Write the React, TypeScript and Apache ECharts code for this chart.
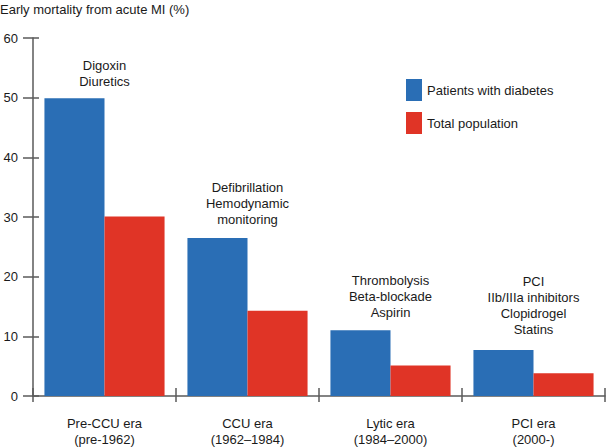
import React, { useEffect, useRef } from "react";
import * as echarts from "echarts";

const categories = ["Pre-CCU era\n(pre-1962)", "CCU era\n(1962–1984)", "Lytic era\n(1984–2000)", "PCI era\n(2000-)"];
const diabetesValues = [49.9, 26.5, 11.0, 7.7];
const totalValues = [30.1, 14.3, 5.1, 3.8];
const therapies = [
  "Digoxin\nDiuretics",
  "Defibrillation\nHemodynamic\nmonitoring",
  "Thrombolysis\nBeta-blockade\nAspirin",
  "PCI\nIIb/IIIa inhibitors\nClopidrogel\nStatins",
];
const seriesNames = ["Patients with diabetes", "Total population"];
const yTitle = "Early mortality from acute MI (%)";

const annotationGap = [9, 10, 10, 13];

const FONT = "Arial, 'Liberation Sans', Helvetica, sans-serif";
const TEXT = "#1a1a1a";
const AXIS = "#5a5a5a";
const BLUE = "#2a6eb5";
const RED = "#e03426";

export default function App() {
  const ref = useRef<HTMLDivElement>(null);
  useEffect(() => {
    if (!ref.current) return;
    const chart = echarts.init(ref.current, null, { renderer: "svg" });
    chart.setOption({
      animation: false,
      textStyle: { fontFamily: FONT, color: TEXT },
      title: {
        text: yTitle,
        left: 0,
        top: 3,
        padding: 0,
        textStyle: { fontFamily: FONT, fontSize: 13, fontWeight: "normal", color: TEXT },
      },
      legend: {
        orient: "vertical",
        left: 406,
        top: 79,
        padding: 0,
        itemWidth: 16,
        itemHeight: 22,
        itemGap: 11,
        icon: "rect",
        textStyle: { fontFamily: FONT, fontSize: 13, color: TEXT },
        data: seriesNames,
      },
      grid: { left: 33, right: 5, top: 38, bottom: 51, containLabel: false },
      xAxis: [
        {
          type: "category",
          data: categories,
          axisLine: { lineStyle: { color: AXIS, width: 1.5 } },
          axisTick: { show: true, length: 6, lineStyle: { color: AXIS, width: 1.5 } },
          axisLabel: { fontFamily: FONT, fontSize: 13, color: TEXT, lineHeight: 16, margin: 19 },
        },
        {
          type: "category",
          data: categories,
          position: "bottom",
          axisLine: { show: false },
          axisTick: { show: true, inside: true, length: 8, lineStyle: { color: AXIS, width: 1.5 } },
          axisLabel: { show: false },
        },
      ],
      yAxis: [
        {
          type: "value",
          min: 0,
          max: 60,
          interval: 10,
          splitLine: { show: false },
          axisLine: { show: true, lineStyle: { color: AXIS, width: 1.5 } },
          axisTick: { show: true, length: 10, lineStyle: { color: AXIS, width: 1.5 } },
          axisLabel: { fontFamily: FONT, fontSize: 13, color: TEXT, margin: 15 },
        },
        {
          type: "value",
          min: 0,
          max: 60,
          interval: 10,
          position: "left",
          splitLine: { show: false },
          axisLine: { show: false },
          axisTick: { show: true, inside: true, length: 6, lineStyle: { color: AXIS, width: 1.5 } },
          axisLabel: { show: false },
        },
      ],
      series: [
        {
          name: seriesNames[0],
          type: "bar",
          barGap: "0%",
          barCategoryGap: "16%",
          itemStyle: { color: BLUE },
          data: diabetesValues.map((v, i) => ({
            value: v,
            label: {
              show: true,
              position: ["100%", -annotationGap[i]],
              align: "center",
              verticalAlign: "bottom",
              formatter: therapies[i],
              fontFamily: FONT,
              fontSize: 13,
              lineHeight: 16,
              color: TEXT,
            },
          })),
        },
        {
          name: seriesNames[1],
          type: "bar",
          itemStyle: { color: RED },
          data: totalValues,
        },
      ],
    });
    return () => chart.dispose();
  }, []);
  return <div ref={ref} style={{ width: 610, height: 447, position: "absolute", left: 0, top: 0 }} />;
}
